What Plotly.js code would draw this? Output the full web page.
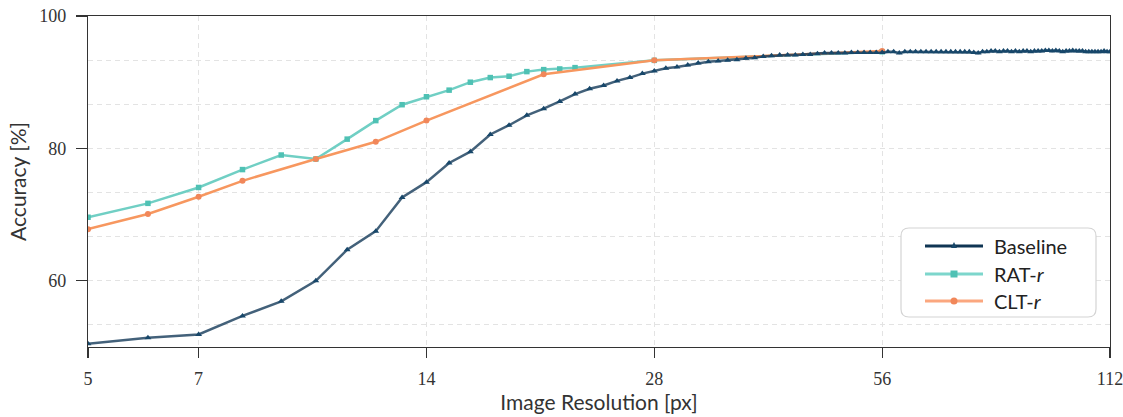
<!DOCTYPE html>
<html>
<head>
<meta charset="utf-8">
<script src="https://cdn.plot.ly/plotly-3.0.1.min.js"></script>
<style>
  html, body { margin: 0; padding: 0; background: #ffffff; }
  #chart { width: 1123px; height: 417px; }
</style>
</head>
<body>
<div id="chart"></div>
<script>
// Accuracy vs. input image resolution (log-scaled x axis).

const baselineRes = [
  5, 6, 7, 8, 9, 10, 11, 12, 13, 14, 15, 16, 17, 18, 19, 20, 21, 22, 23, 24,
  25, 26, 27, 28, 29, 30, 31, 32, 33, 34, 35, 36, 37, 38, 39, 40, 41, 42, 43, 44,
  45, 46, 47, 48, 49, 50, 51, 52, 53, 54, 55, 56, 57, 58, 59, 60, 61, 62, 63, 64,
  65, 66, 67, 68, 69, 70, 71, 72, 73, 74, 75, 76, 77, 78, 79, 80, 81, 82, 83, 84,
  85, 86, 87, 88, 89, 90, 91, 92, 93, 94, 95, 96, 97, 98, 99, 100, 101, 102, 103, 104,
  105, 106, 107, 108, 109, 110, 111, 112
];
const baselineAcc = [
  50.5, 51.4, 51.9, 54.7, 56.9, 60.0, 64.7, 67.5, 72.6, 74.9, 77.8, 79.5, 82.1, 83.5, 85.0, 86.0, 87.1, 88.2, 89.0, 89.5,
  90.2, 90.7, 91.3, 91.7, 92.1, 92.3, 92.6, 92.9, 93.1, 93.2, 93.3, 93.4, 93.6, 93.7, 93.9, 94.0, 94.1, 94.1, 94.1, 94.2,
  94.2, 94.3, 94.4, 94.4, 94.4, 94.4, 94.5, 94.5, 94.5, 94.5, 94.5, 94.5, 94.6, 94.6, 94.4, 94.6, 94.6, 94.6, 94.6, 94.6,
  94.6, 94.6, 94.6, 94.6, 94.6, 94.6, 94.6, 94.6, 94.6, 94.5, 94.4, 94.6, 94.6, 94.7, 94.7, 94.6, 94.7, 94.7, 94.6, 94.7,
  94.6, 94.7, 94.7, 94.6, 94.7, 94.7, 94.7, 94.8, 94.8, 94.7, 94.8, 94.7, 94.6, 94.7, 94.7, 94.8, 94.7, 94.7, 94.7, 94.6,
  94.6, 94.6, 94.6, 94.6, 94.6, 94.7, 94.6, 94.6
];

const ratRes = [5, 6, 7, 8, 9, 10, 11, 12, 13, 14, 15, 16, 17, 18, 19, 20, 21, 22, 28, 56];
const ratAcc = [69.6, 71.7, 74.1, 76.8, 79.0, 78.4, 81.4, 84.2, 86.6, 87.8, 88.8, 90.0, 90.7, 90.9, 91.6, 91.9, 92.0, 92.2, 93.3, 94.6];

const cltRes = [5, 6, 7, 8, 10, 12, 14, 20, 28, 56];
const cltAcc = [67.8, 70.1, 72.7, 75.1, 78.4, 81.0, 84.2, 91.2, 93.3, 94.7];

const xTicks = [5, 7, 14, 28, 56, 112];
const yTicks = [60, 80, 100];
const yMinorGrid = [53.333, 66.667, 73.333, 86.667, 93.333];

const seriesNames = ['Baseline', 'RAT-<i>r</i>', 'CLT-<i>r</i>'];

// Plot geometry (pixels) used to place the hand-drawn legend box.
const W = 1123, H = 417;
const M = { l: 88, r: 13, t: 16, b: 70 };
const PW = W - M.l - M.r, PH = H - M.t - M.b;
const px = x => (x - M.l) / PW;
const py = y => (H - M.b - y) / PH;

const colors = {
  base: { line: 'rgba(14,53,84,0.78)', marker: '#17476a', key: '#0f3553' },
  rat:  { line: '#70cfc4', marker: '#4fc1b4', key: '#7dd6cc' },
  clt:  { line: '#f7975f', marker: '#f1875a', key: '#fba77f' }
};

const traces = [
  {
    x: ratRes, y: ratAcc, name: seriesNames[1], type: 'scatter', mode: 'lines+markers',
    line: { color: colors.rat.line, width: 2.5 },
    marker: { symbol: 'square', size: 5.5, color: colors.rat.marker }
  },
  {
    x: cltRes, y: cltAcc, name: seriesNames[2], type: 'scatter', mode: 'lines+markers',
    line: { color: colors.clt.line, width: 2.5 },
    marker: { symbol: 'circle', size: 6, color: colors.clt.marker }
  },
  {
    x: baselineRes, y: baselineAcc, name: seriesNames[0], type: 'scatter', mode: 'lines+markers',
    line: { color: colors.base.line, width: 2.5 },
    marker: { symbol: 'triangle-up', size: 6, color: colors.base.marker }
  }
];

// Legend: rounded box, key lines with a sample marker, labels.
function roundRectPath(x0, y0, x1, y1, r) {
  const P = (x, y) => px(x).toFixed(5) + ',' + py(y).toFixed(5);
  return 'M' + P(x0 + r, y0) + ' L' + P(x1 - r, y0) + ' Q' + P(x1, y0) + ' ' + P(x1, y0 + r) +
         ' L' + P(x1, y1 - r) + ' Q' + P(x1, y1) + ' ' + P(x1 - r, y1) +
         ' L' + P(x0 + r, y1) + ' Q' + P(x0, y1) + ' ' + P(x0, y1 - r) +
         ' L' + P(x0, y0 + r) + ' Q' + P(x0, y0) + ' ' + P(x0 + r, y0) + ' Z';
}

const box = { x0: 901, y0: 228, x1: 1096, y1: 317 };
const rows = [246, 274, 301];
const keyX0 = 925, keyX1 = 983, keyMid = 954, textX = 992;

const shapes = [
  {
    type: 'path', xref: 'paper', yref: 'paper', layer: 'above',
    path: roundRectPath(box.x0, box.y0, box.x1, box.y1, 8),
    fillcolor: '#ffffff', line: { color: '#d4d4d4', width: 1.2 }
  }
];
const keyColors = [colors.base.key, colors.rat.key, colors.clt.key];
const keyMarkers = [colors.base.marker, colors.rat.marker, colors.clt.marker];
rows.forEach((ry, i) => {
  shapes.push({
    type: 'line', xref: 'paper', yref: 'paper', layer: 'above',
    x0: px(keyX0), x1: px(keyX1), y0: py(ry), y1: py(ry),
    line: { color: keyColors[i], width: 3 }
  });
});
// sample markers
shapes.push({
  type: 'path', xref: 'paper', yref: 'paper', layer: 'above',
  path: 'M' + px(keyMid - 3) + ',' + py(rows[0] + 2) + ' L' + px(keyMid + 3) + ',' + py(rows[0] + 2) +
        ' L' + px(keyMid) + ',' + py(rows[0] - 4) + ' Z',
  fillcolor: keyMarkers[0], line: { width: 0 }
});
shapes.push({
  type: 'rect', xref: 'paper', yref: 'paper', layer: 'above',
  x0: px(keyMid - 3.5), x1: px(keyMid + 3.5), y0: py(rows[1] + 3.5), y1: py(rows[1] - 3.5),
  fillcolor: keyMarkers[1], line: { width: 0 }
});
shapes.push({
  type: 'circle', xref: 'paper', yref: 'paper', layer: 'above',
  x0: px(keyMid - 3.5), x1: px(keyMid + 3.5), y0: py(rows[2] + 3.5), y1: py(rows[2] - 3.5),
  fillcolor: keyMarkers[2], line: { width: 0 }
});

const annotations = rows.map((ry, i) => ({
  xref: 'paper', yref: 'paper', x: px(textX), y: py(ry),
  xanchor: 'left', yanchor: 'middle', showarrow: false,
  text: seriesNames[i],
  font: { family: 'Lato, sans-serif', size: 20, color: '#222222' }
}));

const gridDash = '5px,4px';
const gridColor = '#e3e3e3';
const tickFont = { family: '"Liberation Serif", serif', size: 18, color: '#333333' };
const titleFont = { family: 'Lato, sans-serif', size: 21, color: '#333333' };

const layout = {
  width: W, height: H,
  margin: M,
  paper_bgcolor: '#ffffff', plot_bgcolor: '#ffffff',
  showlegend: false,
  xaxis: {
    type: 'log',
    range: [Math.log10(5) - 1e-5, Math.log10(112) + 1e-5],
    tickmode: 'array', tickvals: xTicks, ticktext: xTicks.map(String),
    ticks: 'outside', ticklen: 10, tickwidth: 1.2, tickcolor: '#333333',
    ticklabelstandoff: 5,
    ticklabeloverflow: 'allow',
    tickfont: tickFont,
    showline: true, mirror: true, linecolor: '#333333', linewidth: 1.2,
    showgrid: true, gridcolor: gridColor, gridwidth: 1, griddash: gridDash,
    zeroline: false,
    title: { text: 'Image Resolution [px]', font: titleFont, standoff: 4 }
  },
  yaxis: {
    range: [50, 100],
    tickmode: 'array', tickvals: yTicks, ticktext: yTicks.map(String),
    ticks: 'outside', ticklen: 11, tickwidth: 1.2, tickcolor: '#333333',
    ticklabelstandoff: 6,
    tickfont: tickFont,
    showline: true, mirror: true, linecolor: '#333333', linewidth: 1.2,
    showgrid: true, gridcolor: gridColor, gridwidth: 1, griddash: gridDash,
    minor: { tickmode: 'array', tickvals: yMinorGrid, showgrid: true, gridcolor: gridColor, gridwidth: 1, griddash: gridDash, ticks: '' },
    zeroline: false,
    title: { text: 'Accuracy [%]', font: titleFont, standoff: 6 }
  },
  shapes: shapes,
  annotations: annotations
};

Plotly.newPlot('chart', traces, layout, { displayModeBar: false, staticPlot: true });
</script>
</body>
</html>
